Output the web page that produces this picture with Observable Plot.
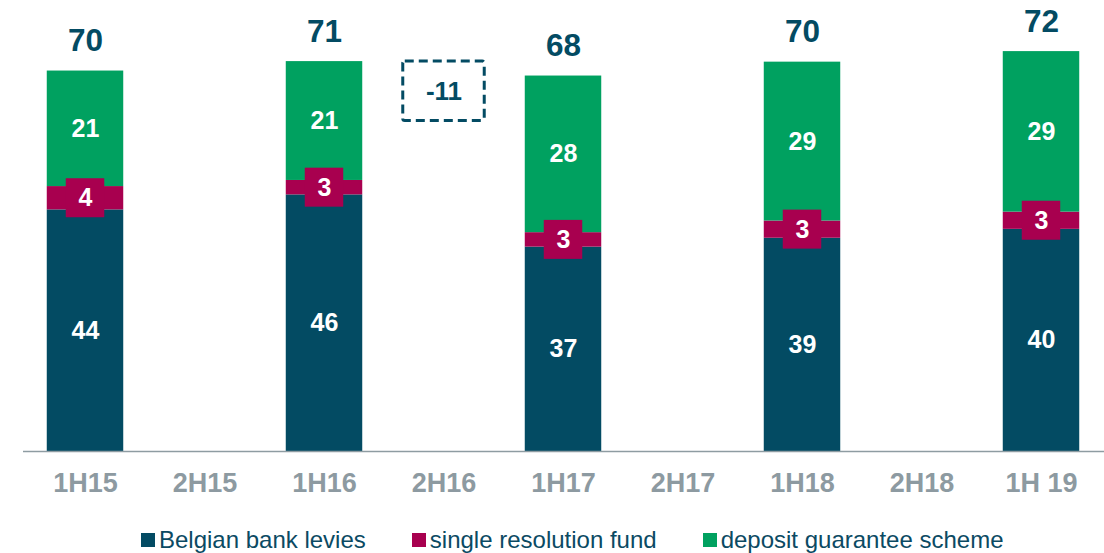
<!DOCTYPE html>
<html><head><meta charset="utf-8">
<script src="https://cdn.jsdelivr.net/npm/d3@7"></script>
<script src="https://cdn.jsdelivr.net/npm/@observablehq/plot@0.6"></script>
<style>
body{margin:0;background:#fff;font-family:"Liberation Sans",Arial,sans-serif;}
#chart svg{display:block}
#legend{display:flex;align-items:center;padding-left:141px;height:50px;font-size:24px;color:#0b4a63;}
.item{display:flex;align-items:center;margin-right:46px;white-space:nowrap}
.sw{width:14px;height:14px;margin-right:4px;flex:none}
</style></head><body><div id="chart"></div><div id="legend"></div>
<script>
const periods = ["1H15","2H15","1H16","2H16","1H17","2H17","1H18","2H18","1H 19"];
const barPeriods = ["1H15","1H16","1H17","1H18","1H 19"];
const levies = [43.5, 46.2, 36.8, 38.4, 40.0];
const srf = [4.2, 2.6, 2.6, 3.1, 3.1];
const dgs = [20.8, 21.4, 28.2, 28.6, 28.9];
const leviesLabels = ["44","46","37","39","40"];
const srfLabels = ["4","3","3","3","3"];
const dgsLabels = ["21","21","28","29","29"];
const totalLabels = ["70","71","68","70","72"];
const seriesNames = ["Belgian bank levies","single resolution fund","deposit guarantee scheme"];
const seriesColors = ["#034b63","#a8004f","#00a160"];
const annotationPeriods = ["2H16"];
const annotationLabels = ["-11"];

const seriesValues = [levies, srf, dgs];
const seriesLabels = [leviesLabels, srfLabels, dgsLabels];
const rows = [];
const totals = [];
barPeriods.forEach((p, i) => {
  let base = 0;
  seriesNames.forEach((s, j) => {
    const v = seriesValues[j][i];
    rows.push({period: p, series: s, y1: base, y2: base + v, mid: base + v / 2, label: seriesLabels[j][i]});
    base += v;
  });
  totals.push({period: p, top: base, label: totalLabels[i]});
});
const srfRows = rows.filter(d => d.series === seriesNames[1]);
const annotation = annotationPeriods.map((p, i) => ({period: p, label: annotationLabels[i]}));

const dark = "#034b63";
const chart = Plot.plot({
  width: 1104,
  height: 515,
  marginLeft: 23,
  marginRight: 0,
  marginTop: 0,
  marginBottom: 64,
  style: {fontFamily: '"Liberation Sans", Arial, sans-serif', background: "#fff"},
  x: {domain: periods, range: [25.25, 1100.75], paddingInner: 0.36, paddingOuter: 0.18, round: false, label: null},
  y: {domain: [0, 81.2], axis: null},
  color: {domain: seriesNames, range: seriesColors},
  marks: [
    Plot.barY(rows, {x: "period", y1: "y1", y2: "y2", fill: "series"}),
    Plot.barY(srfRows, {x: "period", y1: "mid", y2: "mid", fill: seriesColors[1], insetLeft: 19, insetRight: 19, insetTop: -19.5, insetBottom: -19.5}),
    Plot.text(rows, {x: "period", y: "mid", text: "label", fill: "#fff", fontSize: 25, fontWeight: "bold"}),
    Plot.text(totals, {x: "period", y: "top", text: "label", dy: -30, fill: dark, fontSize: 31.5, fontWeight: "bold"}),
    Plot.barY(annotation, {x: "period", y1: 59.5, y2: 70.2, fill: "none", stroke: dark, strokeWidth: 3, strokeDasharray: "9,5", insetLeft: -2.5, insetRight: -2.5, rx: 2}),
    Plot.text(annotation, {x: "period", y: 64.8, text: "label", fill: dark, fontSize: 26, fontWeight: "bold"}),
    Plot.ruleY([0], {stroke: "#8e9ca2", strokeWidth: 1.5}),
    Plot.axisX({tickSize: 0, tickPadding: 21, fontSize: 27, fontWeight: "bold", fill: "#8d9aa1"})
  ]
});
document.getElementById("chart").appendChild(chart);

const legend = document.getElementById("legend");
seriesNames.forEach((s, i) => {
  const item = document.createElement("div");
  item.className = "item";
  const sw = document.createElement("span");
  sw.className = "sw";
  sw.style.background = seriesColors[i];
  const t = document.createElement("span");
  t.textContent = s;
  item.appendChild(sw);
  item.appendChild(t);
  legend.appendChild(item);
});
</script></body></html>
